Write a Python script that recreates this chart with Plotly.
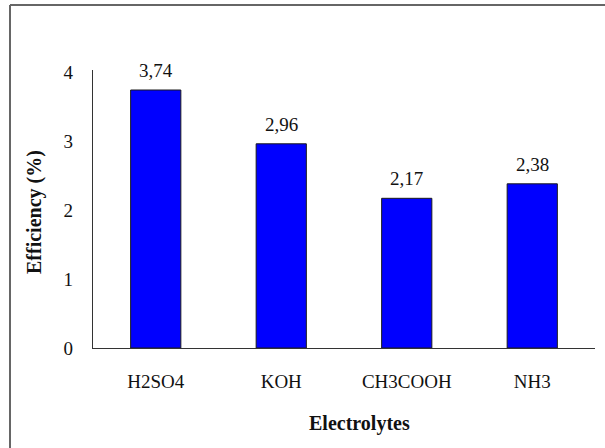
import plotly.graph_objects as go

categories = ["H2SO4", "KOH", "CH3COOH", "NH3"]
efficiency = [3.74, 2.96, 2.17, 2.38]
value_labels = ["3,74", "2,96", "2,17", "2,38"]
y_ticks = [0, 1, 2, 3, 4]

W, H = 605, 448
L, R, T, B = 93, 10, 70, 100
pw = W - L - R
ph = H - T - B

fig = go.Figure()
fig.add_trace(go.Bar(
    x=categories, y=efficiency,
    marker=dict(color="#0000FF", line=dict(color="#1a1a1a", width=1)),
))

font = dict(family="Liberation Serif", size=19, color="#111")
annotations = [
    dict(x=c, y=v, text=t, xref="x", yref="y", showarrow=False,
         yanchor="bottom", yshift=7, font=font)
    for c, v, t in zip(categories, efficiency, value_labels)
]
annotations += [
    dict(text="<b>Electrolytes</b>", xref="paper", yref="paper",
         x=(359 - L) / pw, y=-(423 - (T + ph)) / ph, showarrow=False,
         font=dict(family="Liberation Serif", size=20, color="#111"),
         xanchor="center", yanchor="middle"),
    dict(text="<b>Efficiency (%)</b>", xref="paper", yref="paper",
         x=(35 - L) / pw, y=(T + ph - 212) / ph, showarrow=False, textangle=-90,
         font=dict(family="Liberation Serif", size=20, color="#111"),
         xanchor="center", yanchor="middle"),
]

fig.update_layout(
    width=W, height=H,
    margin=dict(l=L, r=R, t=T, b=B),
    paper_bgcolor="white", plot_bgcolor="white",
    bargap=0.6,
    showlegend=False,
    font=font,
    xaxis=dict(
        showline=True, linecolor="#333", linewidth=1.3,
        ticks="", showgrid=False, tickfont=font,
        ticklabelstandoff=16,
    ),
    yaxis=dict(
        range=[0, 4.03], tickvals=y_ticks, ticktext=[str(v) for v in y_ticks],
        showline=True, linecolor="#333", linewidth=1.3,
        ticks="", showgrid=False, tickfont=font, zeroline=False,
        ticklabelstandoff=15,
    ),
    annotations=annotations,
    shapes=[
        dict(type="line", xref="paper", yref="paper",
             x0=(10 - L) / pw, x1=(W + 2 - L) / pw,
             y0=(T + ph - 5) / ph, y1=(T + ph - 5) / ph,
             line=dict(color="#666", width=2)),
        dict(type="line", xref="paper", yref="paper",
             x0=(10 - L) / pw, x1=(10 - L) / pw,
             y0=(T + ph - 5) / ph, y1=-(H + 2 - T - ph) / ph,
             line=dict(color="#666", width=2)),
    ],
)

fig.write_html("out.html", config={"displayModeBar": False},
               post_script="document.body.style.margin='0';")
